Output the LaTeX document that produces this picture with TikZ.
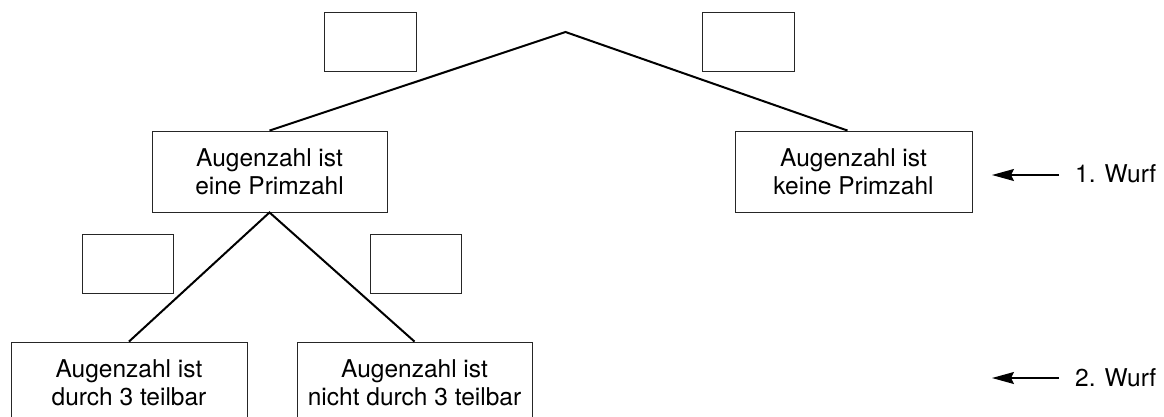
\documentclass[tikz,border=0pt]{standalone}
\usepackage{fontspec}
\setmainfont{TeX Gyre Heros}
\usetikzlibrary{arrows.meta}
\begin{document}
\begin{tikzpicture}[x=1pt,y=-1pt,
  every node/.style={font=\fontsize{24.5}{28}\selectfont},
  evbox/.style={draw=black!85, line width=0.9pt, rectangle, minimum width=235pt, minimum height=81pt, align=center, inner sep=0pt},
  blank/.style={draw=black!85, line width=0.9pt, rectangle, minimum width=92pt, minimum height=59pt, inner sep=0pt},
  branch/.style={line width=2pt, black},
  wurfarrow/.style={line width=1.4pt, -{Stealth[length=22pt,width=12pt,inset=3pt]}},
  wurflabel/.style={anchor=west, inner sep=0pt}
]
\useasboundingbox (0,0) rectangle (1164,416);

\coordinate (root) at (565.5,32);

\node[evbox] (pA) at (269.5,171.5) {Augenzahl ist\\eine Primzahl};
\node[evbox, minimum width=237pt] (pB) at (853.5,171.5) {Augenzahl ist\\keine Primzahl};
\node[evbox, minimum width=236pt] (dA) at (129,382.5) {Augenzahl ist\\durch 3 teilbar};
\node[evbox] (dB) at (414.5,382.5) {Augenzahl ist\\nicht durch 3 teilbar};

\node[blank] (e1) at (370,41.5) {};
\node[blank] (e2) at (748,41.5) {};
\node[blank, minimum width=91pt] (e3) at (127.5,263.5) {};
\node[blank, minimum width=91pt] (e4) at (416,263.5) {};

\draw[branch] (pA.north) -- (root) -- ([xshift=-6pt]pB.north);
\draw[branch] (dA.north) -- (pA.south) -- (dB.north);

\node[wurflabel] (w1) at (1075,174) {1. Wurf};
\node[wurflabel] (w2) at (1075,378) {2. Wurf};
\coordinate (t1) at (992,175);
\coordinate (t2) at (992,378);
\draw[wurfarrow] ([xshift=-16pt]w1.west |- t1) -- (t1);
\draw[wurfarrow] ([xshift=-16pt]w2.west |- t2) -- (t2);
\end{tikzpicture}
\end{document}
